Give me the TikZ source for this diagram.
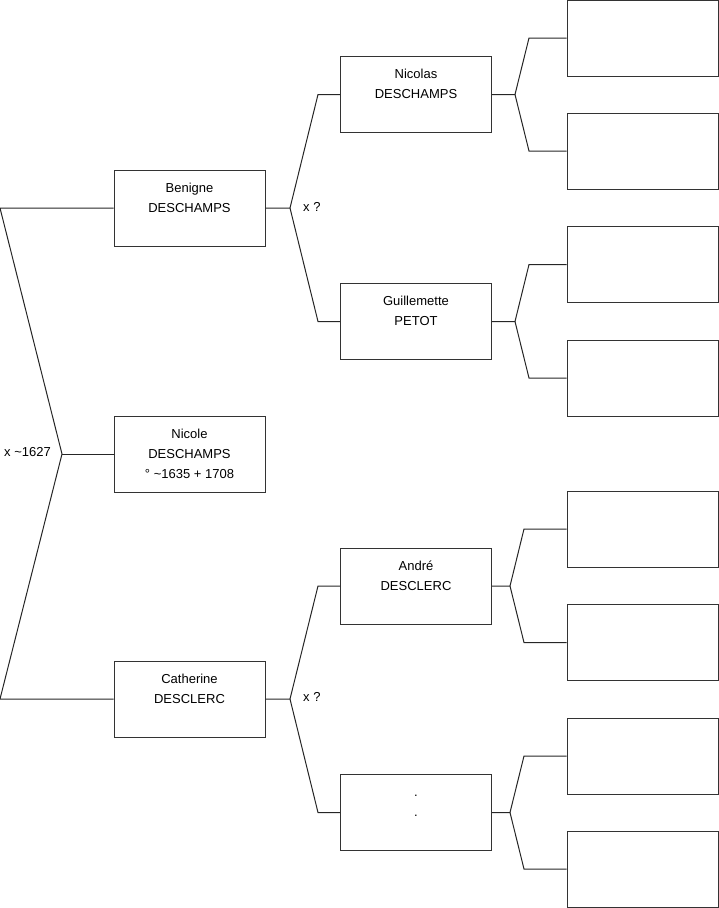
\documentclass[tikz,border=0pt]{standalone}
\usepackage{fontspec}
\setmainfont{Liberation Sans}
\usetikzlibrary{positioning}

\begin{document}
\begin{tikzpicture}[x=1pt, y=-1pt,
    person/.style={rectangle, draw=black!80, line width=1pt, minimum width=151pt, minimum height=76pt, inner sep=0pt, align=center, font=\fontsize{13}{20}\selectfont},
    link/.style={-, black!85, line width=1pt},
    wedlabel/.style={inner sep=0pt, font=\fontsize{13}{15}\selectfont}]

    \useasboundingbox (0,0) rectangle (719,908);

    % generation 1
    \node[person] (nicole) at (189.5,454) {\strut Nicole\\DESCHAMPS\\\strut° \textasciitilde1635 + 1708};

    % parents
    \node[person] (benigne) at (189.5,208) {\strut Benigne\\DESCHAMPS\\\strut};
    \node[person] (catherine) at (189.5,699) {\strut Catherine\\DESCLERC\\\strut};

    % grandparents
    \node[person] (nicolas) at (416,94.5) {\strut Nicolas\\DESCHAMPS\\\strut};
    \node[person] (guillemette) at (416,321.5) {\strut Guillemette\\PETOT\\\strut};
    \node[person] (andre) at (416,586) {\strut André\\DESCLERC\\\strut};
    \node[person] (unknown) at (416,812.5) {\strut .\\.\\\strut};

    % great-grandparents
    \node[person] (gg1) at (642.5,38) {};
    \node[person] (gg2) at (642.5,151) {};
    \node[person] (gg3) at (642.5,264.5) {};
    \node[person] (gg4) at (642.5,378) {};
    \node[person] (gg5) at (642.5,529) {};
    \node[person] (gg6) at (642.5,642.5) {};
    \node[person] (gg7) at (642.5,756) {};
    \node[person] (gg8) at (642.5,869) {};

    % forks
    \coordinate (topL) at (0,208);
    \coordinate (forkL) at (62,454);
    \coordinate (botL) at (0,699);

    \coordinate (forkB) at (290,208);
    \coordinate (upB) at (318,94.5);
    \coordinate (dnB) at (318,321.5);

    \coordinate (forkC) at (290,699);
    \coordinate (upC) at (318,586);
    \coordinate (dnC) at (318,812.5);

    \coordinate (forkN) at (515,94.5);
    \coordinate (upN) at (529,38);
    \coordinate (dnN) at (529,151);

    \coordinate (forkG) at (515,321.5);
    \coordinate (upG) at (529,264.5);
    \coordinate (dnG) at (529,378);

    \coordinate (forkA) at (510,586);
    \coordinate (upA) at (524,529);
    \coordinate (dnA) at (524,642.5);

    \coordinate (forkU) at (510,812.5);
    \coordinate (upU) at (524,756);
    \coordinate (dnU) at (524,869);

    \draw[link] (benigne.west) -- (topL) -- (forkL) -- (botL) -- (catherine.west);
    \draw[link] (forkL) -- (nicole.west);

    \draw[link] (benigne.east) -- (forkB) -- (upB) -- (nicolas.west);
    \draw[link] (forkB) -- (dnB) -- (guillemette.west);

    \draw[link] (catherine.east) -- (forkC) -- (upC) -- (andre.west);
    \draw[link] (forkC) -- (dnC) -- (unknown.west);

    \draw[link] (nicolas.east) -- (forkN) -- (upN) -- (gg1.west);
    \draw[link] (forkN) -- (dnN) -- (gg2.west);
    \draw[link] (guillemette.east) -- (forkG) -- (upG) -- (gg3.west);
    \draw[link] (forkG) -- (dnG) -- (gg4.west);
    \draw[link] (andre.east) -- (forkA) -- (upA) -- (gg5.west);
    \draw[link] (forkA) -- (dnA) -- (gg6.west);
    \draw[link] (unknown.east) -- (forkU) -- (upU) -- (gg7.west);
    \draw[link] (forkU) -- (dnU) -- (gg8.west);

    % marriages
    \node[wedlabel, anchor=east] (wedL) at (51,452) {x \textasciitilde1627};
    \node[wedlabel, anchor=west] (wedB) at (303,207) {x ?};
    \node[wedlabel, anchor=west] (wedC) at (303,697) {x ?};
  \end{tikzpicture}
\end{document}
